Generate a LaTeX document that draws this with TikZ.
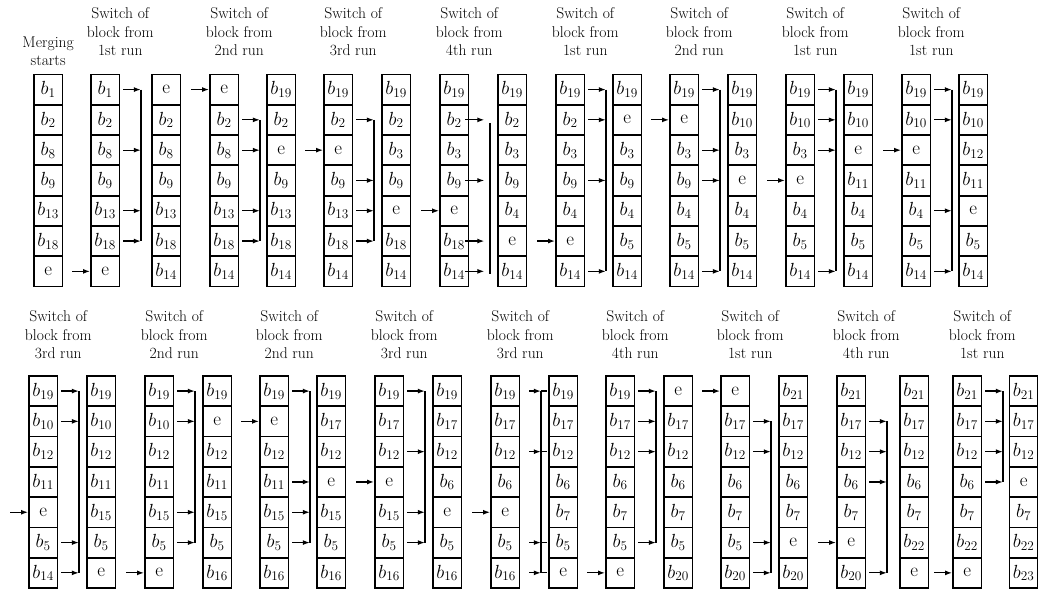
\documentclass[tikz,border=0pt]{standalone}
\usepackage{fix-cm}
\usepackage{amsmath}
\usepackage{tikz}
\usetikzlibrary{arrows.meta}

\tikzset{
  cel/.style={draw, line width=1.8pt, minimum width=28.5pt, minimum height=30.3pt,
    inner sep=0pt, anchor=north west, font=\fontsize{19}{21}\selectfont},
  seta/.style={line width=1.2pt, -{Latex[length=7pt,width=5pt]}},
  barra/.style={line width=1.5pt},
  titulo/.style={align=center, font=\fontsize{15.6}{18.5}\selectfont},
}

\newcommand{\bb}[1]{$b_{#1}$}

% coluna de 7 blocos: nome, x, topo, rotulos
\newcommand{\coluna}[4]{%
  \foreach \lab [count=\i from 0] in {#4}
    \node[cel] (#1-\i) at (#2,#3+\i*30.3) {\lab};%
}

% troca: coluna, linhas que saem, linha do e, inicio e fim da barra
\newcommand{\troca}[5]{%
  \coordinate (#1-bus) at ([xshift=20.5pt]#1-0.east);
  \draw[seta] ([xshift=-18pt]#1-#3.west) -- (#1-#3.west);
  \foreach \r in {#2}
    \draw[seta] ([xshift=3pt]#1-\r.east) -- (#1-\r.east -| #1-bus);
  \draw[barra] (#1-#4.east -| #1-bus) -- (#1-#5.east -| #1-bus);
}

\begin{document}
\begin{tikzpicture}[x=1pt, y=-1pt]
  \useasboundingbox (0,0) rectangle (1038,590);
  \coordinate (titop) at (0,32);
  \coordinate (tibot) at (0,335);

  % linha de cima
  \coluna{t0}{33}{73.5}{\bb1,\bb2,\bb8,\bb9,\bb{13},\bb{18},e}
  \coluna{t1}{90}{73.5}{\bb1,\bb2,\bb8,\bb9,\bb{13},\bb{18},e}
  \coluna{t2}{151}{73.5}{e,\bb2,\bb8,\bb9,\bb{13},\bb{18},\bb{14}}
  \coluna{t3}{209}{73.5}{e,\bb2,\bb8,\bb9,\bb{13},\bb{18},\bb{14}}
  \coluna{t4}{266}{73.5}{\bb{19},\bb2,e,\bb9,\bb{13},\bb{18},\bb{14}}
  \coluna{t5}{323}{73.5}{\bb{19},\bb2,e,\bb9,\bb{13},\bb{18},\bb{14}}
  \coluna{t6}{381}{73.5}{\bb{19},\bb2,\bb3,\bb9,e,\bb{18},\bb{14}}
  \coluna{t7}{439}{73.5}{\bb{19},\bb2,\bb3,\bb9,e,\bb{18},\bb{14}}
  \coluna{t8}{497}{73.5}{\bb{19},\bb2,\bb3,\bb9,\bb4,e,\bb{14}}
  \coluna{t9}{555}{73.5}{\bb{19},\bb2,\bb3,\bb9,\bb4,e,\bb{14}}
  \coluna{t10}{612}{73.5}{\bb{19},e,\bb3,\bb9,\bb4,\bb5,\bb{14}}
  \coluna{t11}{669}{73.5}{\bb{19},e,\bb3,\bb9,\bb4,\bb5,\bb{14}}
  \coluna{t12}{727}{73.5}{\bb{19},\bb{10},\bb3,e,\bb4,\bb5,\bb{14}}
  \coluna{t13}{785}{73.5}{\bb{19},\bb{10},\bb3,e,\bb4,\bb5,\bb{14}}
  \coluna{t14}{843}{73.5}{\bb{19},\bb{10},e,\bb{11},\bb4,\bb5,\bb{14}}
  \coluna{t15}{901}{73.5}{\bb{19},\bb{10},e,\bb{11},\bb4,\bb5,\bb{14}}
  \coluna{t16}{958}{73.5}{\bb{19},\bb{10},\bb{12},\bb{11},e,\bb5,\bb{14}}

  \node[titulo] (inicio) at (t0-0.north |- 0,51) {Merging\\starts};
  \node[titulo] (tt1) at (t1-0.east |- titop) {Switch of\\block from\\1st run};
  \node[titulo] (tt3) at (t3-0.east |- titop) {Switch of\\block from\\2nd run};
  \node[titulo] (tt5) at (t5-0.east |- titop) {Switch of\\block from\\3rd run};
  \node[titulo] (tt7) at (t7-0.east |- titop) {Switch of\\block from\\4th run};
  \node[titulo] (tt9) at (t9-0.east |- titop) {Switch of\\block from\\1st run};
  \node[titulo] (tt11) at (t11-0.east |- titop) {Switch of\\block from\\2nd run};
  \node[titulo] (tt13) at (t13-0.east |- titop) {Switch of\\block from\\1st run};
  \node[titulo] (tt15) at (t15-0.east |- titop) {Switch of\\block from\\1st run};

  \troca{t1}{0,2,4,5}{6}{0}{5}
  \troca{t3}{1,2,4,5}{0}{1}{5}
  \troca{t5}{1,3,4,5}{2}{1}{5}
  % aqui as setas nao tocam a barra
  \coordinate (t7-bus) at ([xshift=20.5pt]t7-0.east);
  \draw[seta] ([xshift=-18pt]t7-4.west) -- (t7-4.west);
  \foreach \r in {1,3,5,6}
    \draw[seta] ([xshift=-4pt]t7-\r.east) -- ([xshift=15pt]t7-\r.east);
  \draw[barra] ([yshift=-3pt]t7-1.east -| t7-bus) -- ([yshift=-3pt]t7-6.east -| t7-bus);
  \troca{t9}{0,1,3,6}{5}{0}{6}
  \troca{t11}{0,2,3,6}{1}{0}{6}
  \troca{t13}{0,1,2,6}{3}{0}{6}
  \troca{t15}{0,1,4,6}{2}{0}{6}

  % linha de baixo
  \coluna{u0}{28}{375}{\bb{19},\bb{10},\bb{12},\bb{11},e,\bb5,\bb{14}}
  \coluna{u1}{86}{375}{\bb{19},\bb{10},\bb{12},\bb{11},\bb{15},\bb5,e}
  \coluna{u2}{144}{375}{\bb{19},\bb{10},\bb{12},\bb{11},\bb{15},\bb5,e}
  \coluna{u3}{202}{375}{\bb{19},e,\bb{12},\bb{11},\bb{15},\bb5,\bb{16}}
  \coluna{u4}{259}{375}{\bb{19},e,\bb{12},\bb{11},\bb{15},\bb5,\bb{16}}
  \coluna{u5}{316}{375}{\bb{19},\bb{17},\bb{12},e,\bb{15},\bb5,\bb{16}}
  \coluna{u6}{374}{375}{\bb{19},\bb{17},\bb{12},e,\bb{15},\bb5,\bb{16}}
  \coluna{u7}{432}{375}{\bb{19},\bb{17},\bb{12},\bb6,e,\bb5,\bb{16}}
  \coluna{u8}{490}{375}{\bb{19},\bb{17},\bb{12},\bb6,e,\bb5,\bb{16}}
  \coluna{u9}{548}{375}{\bb{19},\bb{17},\bb{12},\bb6,\bb7,\bb5,e}
  \coluna{u10}{605}{375}{\bb{19},\bb{17},\bb{12},\bb6,\bb7,\bb5,e}
  \coluna{u11}{663}{375}{e,\bb{17},\bb{12},\bb6,\bb7,\bb5,\bb{20}}
  \coluna{u12}{720}{375}{e,\bb{17},\bb{12},\bb6,\bb7,\bb5,\bb{20}}
  \coluna{u13}{778}{375}{\bb{21},\bb{17},\bb{12},\bb6,\bb7,e,\bb{20}}
  \coluna{u14}{836}{375}{\bb{21},\bb{17},\bb{12},\bb6,\bb7,e,\bb{20}}
  \coluna{u15}{899}{375}{\bb{21},\bb{17},\bb{12},\bb6,\bb7,\bb{22},e}
  \coluna{u16}{952}{375}{\bb{21},\bb{17},\bb{12},\bb6,\bb7,\bb{22},e}
  \coluna{u17}{1008.5}{375}{\bb{21},\bb{17},\bb{12},e,\bb7,\bb{22},\bb{23}}

  \node[titulo] (tu0) at (u0-0.east |- tibot) {Switch of\\block from\\3rd run};
  \node[titulo] (tu2) at (u2-0.east |- tibot) {Switch of\\block from\\2nd run};
  \node[titulo] (tu4) at (u4-0.east |- tibot) {Switch of\\block from\\2nd run};
  \node[titulo] (tu6) at (u6-0.east |- tibot) {Switch of\\block from\\3rd run};
  \node[titulo] (tu8) at (u8-0.east |- tibot) {Switch of\\block from\\3rd run};
  \node[titulo] (tu10) at (u10-0.east |- tibot) {Switch of\\block from\\4th run};
  \node[titulo] (tu12) at (u12-0.east |- tibot) {Switch of\\block from\\1st run};
  \node[titulo] (tu14) at (u14-0.east |- tibot) {Switch of\\block from\\4th run};
  \node[titulo] (tu16) at (u16-0.east |- tibot) {Switch of\\block from\\1st run};

  \troca{u0}{0,1,5,6}{4}{0}{6}
  \troca{u2}{0,1,4,5}{6}{0}{5}
  \troca{u4}{0,3,4,5}{1}{0}{5}
  \troca{u6}{0,2,4,5}{3}{0}{5}
  % aqui as setas atravessam a barra
  \coordinate (u8-bus) at ([xshift=20.5pt]u8-0.east);
  \draw[seta] ([xshift=-18pt]u8-4.west) -- (u8-4.west);
  \foreach \r in {0,2,5,6} {
    \draw[seta] ([xshift=9pt]u8-\r.east) -- (u8-\r.east -| u8-bus);
    \draw[line width=1.2pt] (u8-\r.east -| u8-bus) -- ++(6pt,0);
  }
  \draw[barra] (u8-0.east -| u8-bus) -- (u8-6.east -| u8-bus);
  \troca{u10}{0,1,2,5}{6}{0}{5}
  \troca{u12}{1,2,5,6}{0}{1}{6}
  \troca{u14}{1,2,3,6}{5}{1}{6}
  \troca{u16}{0,1,2,3}{6}{0}{3}
\end{tikzpicture}
\end{document}
